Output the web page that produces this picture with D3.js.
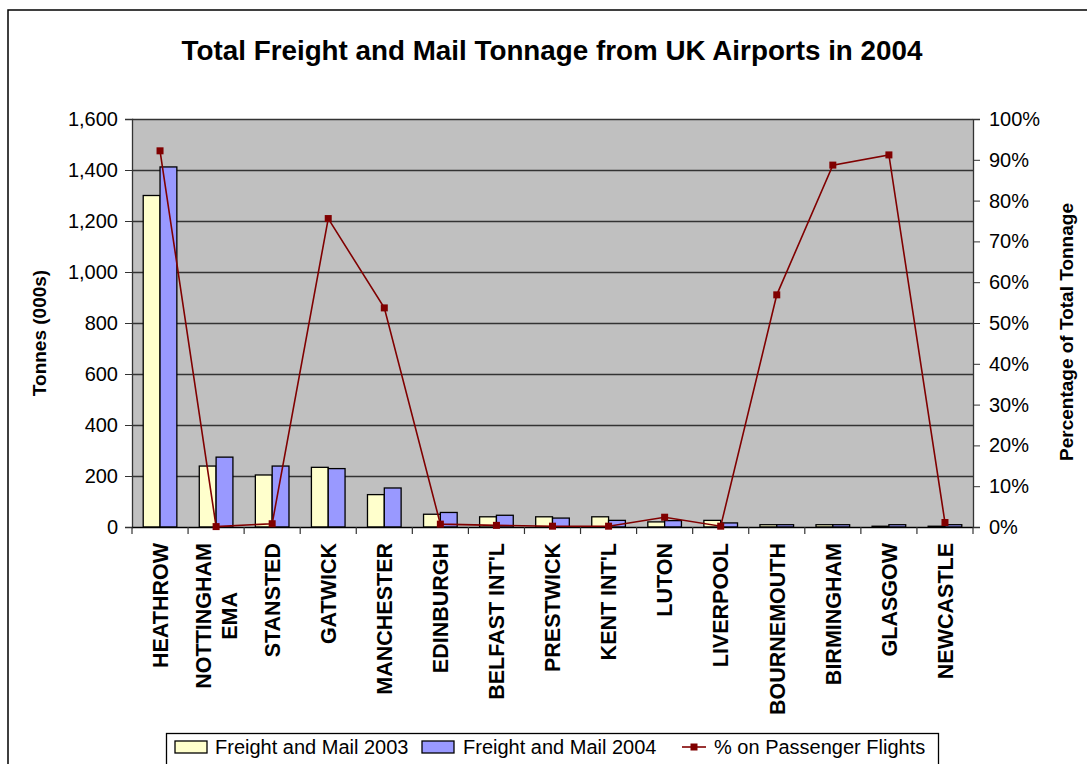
<!DOCTYPE html>
<html><head><meta charset="utf-8">
<script src="https://cdn.jsdelivr.net/npm/d3@7"></script>
<style>body{margin:0;background:#fff}svg{display:block}text{font-family:"Liberation Sans",Arial,sans-serif}</style>
</head><body>
<svg id="c" width="1087" height="764"></svg>
<script>
const categories = ["HEATHROW","NOTTINGHAM\nEMA","STANSTED","GATWICK","MANCHESTER","EDINBURGH","BELFAST INT'L","PRESTWICK","KENT INT'L","LUTON","LIVERPOOL","BOURNEMOUTH","BIRMINGHAM","GLASGOW","NEWCASTLE"];
const freight2003 = [1300,239,204,234,127,50,40,40,40,20,26,9,9,3,3];
const freight2004 = [1412,274,239,229,153,57,46,35,26,25,16,9,9,9,9];
const pctPassenger = [92.2,0.1,0.8,75.6,53.7,0.7,0.4,0.2,0.2,2.4,0.2,56.9,88.7,91.2,1.1];
const leftTicks = [0,200,400,600,800,1000,1200,1400,1600];
const rightTicks = [0,10,20,30,40,50,60,70,80,90,100];

const svg = d3.select("#c");
const L = 132, R = 973, T = 119, B = 527;

// outer frame
svg.append("rect").attr("x",8).attr("y",10).attr("width",1200).attr("height",900)
  .attr("fill","#fff").attr("stroke","#000").attr("stroke-width",1.5);

const x = d3.scaleBand().domain(categories).range([L,R]).padding(0);
const y = d3.scaleLinear().domain([0,1600]).range([B,T]);
const y2 = d3.scaleLinear().domain([0,100]).range([B,T]);

// plot bg
svg.append("rect").attr("x",L).attr("y",T).attr("width",R-L).attr("height",B-T).attr("fill","#C0C0C0");

// gridlines
svg.append("g").selectAll("line").data(leftTicks.filter(d=>d>0)).join("line")
  .attr("x1",L).attr("x2",R).attr("y1",d=>Math.round(y(d))+0.5).attr("y2",d=>Math.round(y(d))+0.5)
  .attr("stroke","#333").attr("stroke-width",1.3);

// bars
const bw = x.bandwidth()*0.3;
const g = svg.append("g");
g.selectAll("rect.a").data(categories).join("rect").attr("class","a")
  .attr("x",(d,i)=>x(d)+x.bandwidth()/2-bw).attr("width",bw)
  .attr("y",(d,i)=>y(freight2003[i])).attr("height",(d,i)=>B-y(freight2003[i]))
  .attr("fill","#FFFFCC").attr("stroke","#000").attr("stroke-width",1.3);
g.selectAll("rect.b").data(categories).join("rect").attr("class","b")
  .attr("x",(d,i)=>x(d)+x.bandwidth()/2).attr("width",bw)
  .attr("y",(d,i)=>y(freight2004[i])).attr("height",(d,i)=>B-y(freight2004[i]))
  .attr("fill","#9999FF").attr("stroke","#000").attr("stroke-width",1.3);

// axes
const ax = d3.axisLeft(y).tickValues(leftTicks).tickFormat(d3.format(",")).tickSize(7).tickPadding(7);
const ga = svg.append("g").attr("transform",`translate(${L},0)`).call(ax);
ga.select(".domain").attr("stroke","#333").attr("stroke-width",1.3);
ga.selectAll(".tick line").attr("stroke","#333");
ga.selectAll("text").attr("font-size",20).attr("fill","#000").style("font-family","Liberation Sans, Arial");

const ax2 = d3.axisRight(y2).tickValues(rightTicks).tickFormat(d=>d+"%").tickSize(7).tickPadding(9);
const gb = svg.append("g").attr("transform",`translate(${R},0)`).call(ax2);
gb.select(".domain").attr("stroke","#333").attr("stroke-width",1.3);
gb.selectAll(".tick line").attr("stroke","#333");
gb.selectAll("text").attr("font-size",20).attr("fill","#000").style("font-family","Liberation Sans, Arial");

// bottom axis
svg.append("line").attr("x1",L).attr("x2",R).attr("y1",B+0.5).attr("y2",B+0.5).attr("stroke","#000").attr("stroke-width",1.5);
svg.append("g").selectAll("line").data(d3.range(categories.length+1)).join("line")
  .attr("x1",i=>L+i*x.step()).attr("x2",i=>L+i*x.step()).attr("y1",B).attr("y2",B+7)
  .attr("stroke","#333").attr("stroke-width",1.2);

// category labels
categories.forEach((c,i)=>{
  const lines = c.split("\n");
  const cx = x(c)+x.bandwidth()/2;
  const lh = 26;
  const gl = svg.append("g").attr("transform",`translate(${cx},543) rotate(-90)`);
  const texts = lines.map((t,j)=>gl.append("text").text(t)
     .attr("font-size",21.5).attr("font-weight","bold")
     .attr("y",(j-(lines.length-1)/2)*lh).attr("dy","0.36em"));
  const maxW = d3.max(texts,t=>t.node().getComputedTextLength());
  texts.forEach(t=>t.attr("x",-maxW/2).attr("text-anchor","middle"));
});

// line series
const line = d3.line().x((d,i)=>x(categories[i])+x.bandwidth()/2).y(d=>y2(d));
svg.append("path").datum(pctPassenger).attr("d",line).attr("fill","none").attr("stroke","#800000").attr("stroke-width",1.6);
svg.append("g").selectAll("rect").data(pctPassenger).join("rect")
  .attr("x",(d,i)=>x(categories[i])+x.bandwidth()/2-3.5).attr("y",d=>y2(d)-3.5)
  .attr("width",7).attr("height",7).attr("fill","#800000");

// titles
svg.append("text").attr("x",552).attr("y",60).attr("text-anchor","middle")
  .attr("font-size",27.8).attr("font-weight","bold").text("Total Freight and Mail Tonnage from UK Airports in 2004");
svg.append("text").attr("transform","translate(46,333) rotate(-90)").attr("text-anchor","middle")
  .attr("font-size",19).attr("font-weight","bold").text("Tonnes (000s)");
svg.append("text").attr("transform","translate(1073,332) rotate(-90)").attr("text-anchor","middle")
  .attr("font-size",19).attr("font-weight","bold").text("Percentage of Total Tonnage");

// legend
const lg = svg.append("g");
lg.append("rect").attr("x",166.5).attr("y",733.5).attr("width",772).attr("height",60)
  .attr("fill","#fff").attr("stroke","#000").attr("stroke-width",1.3);
lg.append("rect").attr("x",175).attr("y",741).attr("width",32).attr("height",12).attr("fill","#FFFFCC").attr("stroke","#000").attr("stroke-width",1.3);
lg.append("text").attr("x",215).attr("y",754).attr("font-size",20).text("Freight and Mail 2003");
lg.append("rect").attr("x",422).attr("y",741).attr("width",32).attr("height",12).attr("fill","#9999FF").attr("stroke","#000").attr("stroke-width",1.3);
lg.append("text").attr("x",463).attr("y",754).attr("font-size",20).text("Freight and Mail 2004");
lg.append("line").attr("x1",682).attr("x2",706).attr("y1",747).attr("y2",747).attr("stroke","#800000").attr("stroke-width",1.6);
lg.append("rect").attr("x",690.5).attr("y",743.5).attr("width",7).attr("height",7).attr("fill","#800000");
lg.append("text").attr("x",714).attr("y",754).attr("font-size",20).text("% on Passenger Flights");
</script>
</body></html>
